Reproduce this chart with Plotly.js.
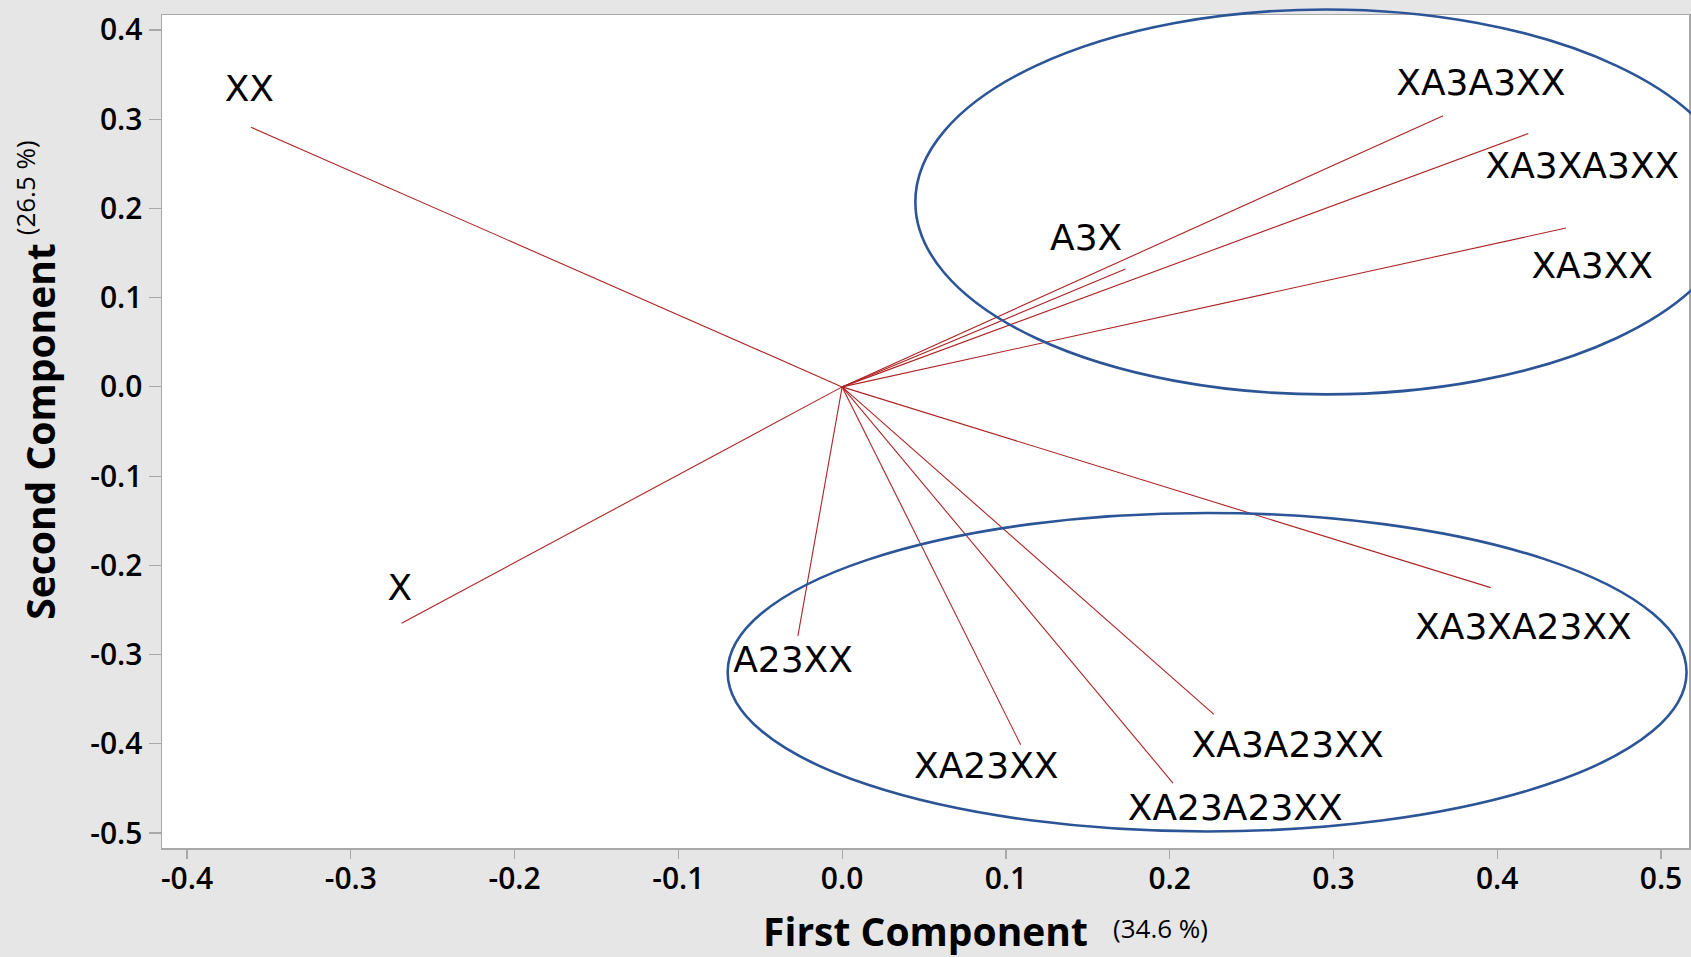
<!DOCTYPE html>
<html>
<head>
<meta charset="utf-8">
<script src="https://cdn.plot.ly/plotly-3.0.1.min.js"></script>
<style>html,body{margin:0;padding:0;background:#e6e6e6;}#chart{width:1691px;height:957px;}</style>
</head>
<body>
<div id="chart"></div>
<script>
// ---- data ----
const categories = ['XX', 'X', 'XA3A3XX', 'XA3XA3XX', 'XA3XX', 'A3X', 'A23XX', 'XA23XX', 'XA23A23XX', 'XA3A23XX', 'XA3XA23XX'];
const firstComponent  = [-0.361, -0.269, 0.367, 0.419, 0.442, 0.173, -0.027, 0.109, 0.202, 0.227, 0.396];
const secondComponent = [0.291, -0.265, 0.304, 0.284, 0.178, 0.132, -0.279, -0.401, -0.444, -0.367, -0.225];
const labelX = [-0.362, -0.270, 0.390, 0.452, 0.458, 0.149, -0.030, 0.088, 0.240, 0.272, 0.416];
const labelY = [0.331, -0.229, 0.337, 0.244, 0.132, 0.164, -0.309, -0.428, -0.475, -0.405, -0.273];
const xTickVals = [-0.4, -0.3, -0.2, -0.1, 0.0, 0.1, 0.2, 0.3, 0.4, 0.5];
const xTickText = ['-0.4', '-0.3', '-0.2', '-0.1', '0.0', '0.1', '0.2', '0.3', '0.4', '0.5'];
const yTickVals = [-0.5, -0.4, -0.3, -0.2, -0.1, 0.0, 0.1, 0.2, 0.3, 0.4];
const yTickText = ['-0.5', '-0.4', '-0.3', '-0.2', '-0.1', '0.0', '0.1', '0.2', '0.3', '0.4'];
// group ellipses (data units): [x0, x1, y0, y1]
const groupUpper = [0.0447, 0.5465, -0.0084, 0.4230];
const groupLower = [-0.0699, 0.5156, -0.4983, -0.1413];
const xVariance = '(34.6 %)';
const yVariance = '(26.5 %)';

const xRange = [-0.4153, 0.5171];
const yRange = [-0.5168, 0.4168];

// loading vectors from origin
const lx = [], ly = [];
for (let i = 0; i < categories.length; i++) {
  lx.push(0, firstComponent[i], null);
  ly.push(0, secondComponent[i], null);
}

const vectors = {
  x: lx, y: ly, type: 'scatter', mode: 'lines',
  line: {color: '#ad2424', width: 1.1},
  hoverinfo: 'skip', showlegend: false
};
const labels = {
  x: labelX, y: labelY, text: categories, type: 'scatter', mode: 'text',
  textposition: 'middle center', cliponaxis: false,
  textfont: {family: 'DejaVu Sans, sans-serif', size: 36, color: '#000'},
  showlegend: false, hoverinfo: 'text'
};

function px(v) { return (v - xRange[0]) / (xRange[1] - xRange[0]); }
function py(v) { return (v - yRange[0]) / (yRange[1] - yRange[0]); }
function ellipse(g) {
  return {type: 'circle', xref: 'paper', yref: 'paper',
    x0: px(g[0]), x1: px(g[1]), y0: py(g[2]), y1: py(g[3]),
    line: {color: '#2c5597', width: 2.6}, layer: 'above'};
}

const tickFont = {family: 'Open Sans, Noto Sans, sans-serif', size: 30, weight: 600, color: '#000'};
const titleFont = {family: 'Open Sans, Noto Sans, sans-serif', size: 39, weight: 700, color: '#000'};

const layout = {
  width: 1691, height: 957,
  margin: {l: 162, r: 2, t: 15, b: 109, pad: 0},
  paper_bgcolor: '#e6e6e6', plot_bgcolor: '#ffffff',
  showlegend: false,
  xaxis: {
    range: xRange, autorange: false, automargin: false,
    tickmode: 'array', tickvals: xTickVals, ticktext: xTickText,
    ticks: 'outside', ticklen: 9, tickcolor: '#a8a8a8', tickwidth: 1.2,
    ticklabelstandoff: -6,
    showline: true, linecolor: '#a8a8a8', linewidth: 1.5, mirror: true,
    showgrid: false, zeroline: false, tickfont: tickFont,
    title: {text: 'First Component', font: titleFont, standoff: 22}
  },
  yaxis: {
    range: yRange, autorange: false, automargin: false,
    tickmode: 'array', tickvals: yTickVals, ticktext: yTickText,
    ticks: 'outside', ticklen: 12, tickcolor: '#a8a8a8', tickwidth: 1.2,
    showline: true, linecolor: '#a8a8a8', linewidth: 1.5, mirror: true,
    showgrid: false, zeroline: false, tickfont: tickFont,
    title: {text: 'Second Component', font: titleFont, standoff: 22}
  },
  shapes: [ellipse(groupUpper), ellipse(groupLower)],
  annotations: [
    {text: xVariance, xref: 'paper', yref: 'paper', x: 0.6539, y: -0.0961,
     xanchor: 'center', yanchor: 'middle', showarrow: false,
     font: {family: 'Open Sans, Noto Sans, sans-serif', size: 26, color: '#000'}},
    {text: yVariance, xref: 'paper', yref: 'paper', x: -0.0897, y: 0.792,
     xanchor: 'center', yanchor: 'middle', showarrow: false, textangle: -90,
     font: {family: 'Open Sans, Noto Sans, sans-serif', size: 26, color: '#000'}}
  ]
};

Plotly.newPlot('chart', [vectors, labels], layout, {displayModeBar: false, staticPlot: true});
</script>
</body>
</html>
